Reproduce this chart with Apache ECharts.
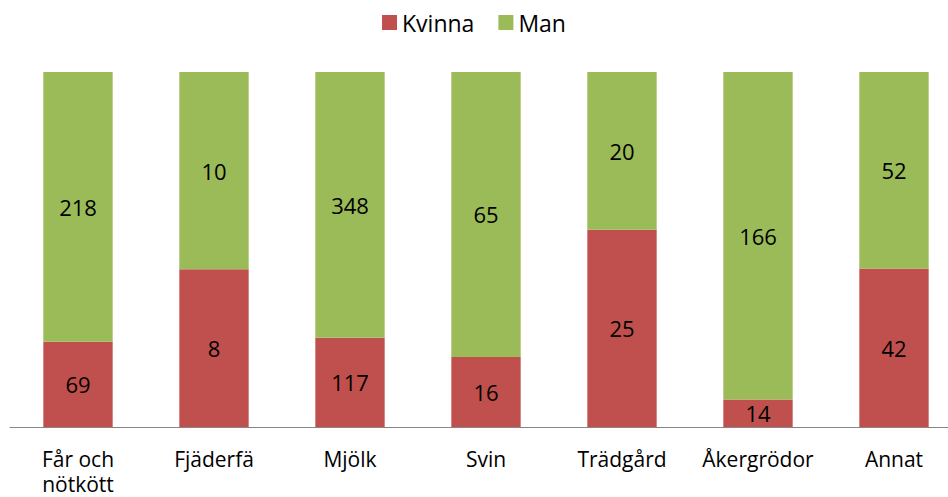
<!DOCTYPE html>
<html>
<head>
<meta charset="utf-8">
<script src="https://cdn.jsdelivr.net/npm/echarts@6/dist/echarts.min.js"></script>
<style>
  html, body { margin: 0; padding: 0; background: #fff; }
  #chart { width: 948px; height: 497px; }
</style>
</head>
<body>
<div id="chart"></div>
<script>
var categories = ['Får och\nnötkött', 'Fjäderfä', 'Mjölk', 'Svin', 'Trädgård', 'Åkergrödor', 'Annat'];
var kvinna = [69, 8, 117, 16, 25, 14, 42];
var man = [218, 10, 348, 65, 20, 166, 52];

var font = '"Open Sans", sans-serif';

function share(arr, i) {
  return arr[i] / (kvinna[i] + man[i]) * 100;
}

function toSeries(arr) {
  return arr.map(function(v, i) {
    return { value: share(arr, i), raw: v };
  });
}

var chart = echarts.init(document.getElementById('chart'), null, { renderer: 'svg' });
chart.setOption({
  animation: false,
  legend: {
    data: ['Kvinna', 'Man'],
    top: 6,
    left: 'center',
    itemWidth: 15,
    itemHeight: 15,
    itemGap: 24,
    icon: 'rect',
    textStyle: { fontFamily: font, fontSize: 23, color: '#000' }
  },
  grid: { left: 10, width: 952, top: 72, bottom: 70, outerBoundsMode: 'none' },
  xAxis: {
    type: 'category',
    data: categories,
    axisLine: { lineStyle: { color: '#868686', width: 1 } },
    axisTick: { show: false },
    axisLabel: { fontFamily: font, fontSize: 21, color: '#000', margin: 19, lineHeight: 25, interval: 0 }
  },
  yAxis: {
    type: 'value',
    min: 0,
    max: 100,
    show: false
  },
  series: [
    {
      name: 'Kvinna',
      type: 'bar',
      stack: 'total',
      barWidth: '51%',
      data: toSeries(kvinna),
      itemStyle: { color: '#C0504D' },
      label: {
        show: true,
        position: 'inside',
        fontFamily: font,
        fontSize: 22,
        color: '#000',
        formatter: function(p) { return p.data.raw; }
      }
    },
    {
      name: 'Man',
      type: 'bar',
      stack: 'total',
      barWidth: '51%',
      data: toSeries(man),
      itemStyle: { color: '#9BBB59' },
      label: {
        show: true,
        position: 'inside',
        fontFamily: font,
        fontSize: 22,
        color: '#000',
        formatter: function(p) { return p.data.raw; }
      }
    }
  ]
});
</script>
</body>
</html>
